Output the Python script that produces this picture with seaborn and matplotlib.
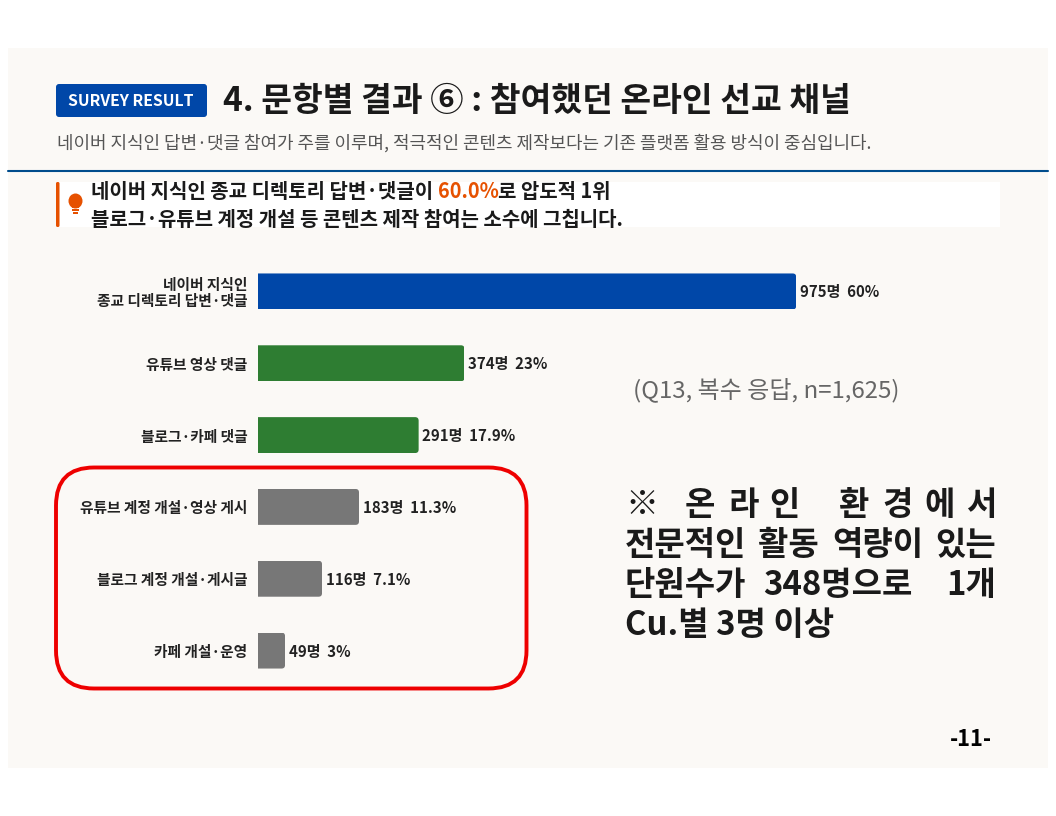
#! python3

# Import Libraries
import numpy as np
import pandas as pd
import matplotlib
matplotlib.use("Agg")
import matplotlib.pyplot as plt
import matplotlib.patches as patches
from matplotlib.transforms import IdentityTransform
import seaborn as sns

# Data
channels = ["네이버 지식인\n종교 디렉토리 답변·댓글", "유튜브 영상 댓글", "블로그·카페 댓글",
            "유튜브 계정 개설·영상 게시", "블로그 계정 개설·게시글", "카페 개설·운영"]
counts = [975, 374, 291, 183, 116, 49]
shares = ["60%", "23%", "17.9%", "11.3%", "7.1%", "3%"]
groups = ["blue", "green", "green", "grey", "grey", "grey"]

BLUE = "#0047A8"
GREEN = "#2E7D32"
GREY = "#777777"
ORANGE = "#E65100"
PAGE = "#FBF9F6"
W, H = 1056, 816

sns.set_theme(style="white")
plt.rcParams['font.family'] = ['Noto Sans CJK KR', 'DejaVu Sans']

df = pd.DataFrame({"channel": channels, "count": counts, "group": groups})

fig = plt.figure(figsize=(W / 100, H / 100), dpi=100, facecolor="white")


# pixel helpers, y measured from the top of the picture
def fx(x):
    return x / W


def fy(y):
    return 1 - y / H


def box(x0, y0, x1, y1, color, round_px=0, z=0):
    style = f"round,pad=0,rounding_size={round_px}" if round_px else "square,pad=0"
    p = patches.FancyBboxPatch((x0, H - y1), x1 - x0, y1 - y0, boxstyle=style, fc=color, ec="none",
                               transform=IdentityTransform(), zorder=z)
    fig.add_artist(p)
    return p


def put(x, y, s, size, color="#1A1A1A", weight="bold", ha="left", **kw):
    return fig.text(fx(x), fy(y), s, fontsize=size * 0.72, color=color, fontweight=weight, ha=ha,
                    va="center", **kw)


# Page
box(8, 48, 1048, 768, PAGE, z=-5)

# Header
box(56, 84, 207, 117, BLUE, round_px=3)
put(130.5, 101, "SURVEY RESULT", 15.8, color="white", ha="center")
put(223, 101.5, "4. 문항별 결과 ⑥ : 참여했던 온라인 선교 채널", 33.4)
put(57, 143.5, "네이버 지식인 답변·댓글 참여가 주를 이루며, 적극적인 콘텐츠 제작보다는 기존 플랫폼 활용 방식이 중심입니다.",
    18, color="#555555", weight="normal")
fig.add_artist(plt.Line2D([fx(8), fx(1048)], [fy(170.5)] * 2, color="#004C8C", lw=1.5))

# Callout
box(56, 182, 1000, 227, "white", z=-1)
box(56, 182, 59.5, 227, ORANGE, round_px=1.5)
fig.add_artist(patches.Ellipse((75.5, H - 201), 14, 15, fc=ORANGE, ec="none", transform=IdentityTransform()))
box(72, 203, 79, 208, ORANGE)
box(72, 209, 79, 211, ORANGE)
box(73, 212, 78, 214, ORANGE)

first = put(91, 191.5, "네이버 지식인 종교 디렉토리 답변·댓글이 ", 20)
fig.canvas.draw()
x1 = first.get_window_extent().x1
pct = put(x1, 191.5, "60.0%", 20, color=ORANGE)
x2 = pct.get_window_extent().x1
put(x2, 191.5, "로 압도적 1위", 20)
put(91, 219.5, "블로그·유튜브 계정 개설 등 콘텐츠 제작 참여는 소수에 그칩니다.", 20)

# Draw Plot
ax = fig.add_axes([fx(258), fy(686.5), 552 / W, 431 / H])
ax.patch.set_alpha(0)
palette = {"blue": BLUE, "green": GREEN, "grey": GREY}
sns.barplot(data=df, y="channel", x="count", hue="group", palette=palette, dodge=False, legend=False,
            width=0.5, saturation=1, linewidth=0, ax=ax)
ax.set_xlim(0, 1000)
ax.set_ylim(5.5, -0.5)
ax.set_xlabel("")
ax.set_ylabel("")
ax.xaxis.set_visible(False)
sns.despine(ax=ax, left=True, bottom=True)
ax.tick_params(axis="y", length=0, pad=7.5)
for lab in ax.get_yticklabels():
    lab.set_fontsize(10.6)
    lab.set_fontweight("bold")
    lab.set_color("#222222")
    lab.set_linespacing(1.0)

# Round right side of bars, value labels
fig.canvas.draw()
for bar in ax.patches:
    if bar.get_width() == 0:
        continue
    (px0, py0), (px1, py1) = ax.transData.transform(
        [(bar.get_x(), bar.get_y()), (bar.get_x() + bar.get_width(), bar.get_y() + bar.get_height())])
    clip = patches.FancyBboxPatch((px0 - 6, min(py0, py1)), px1 - px0 + 6, abs(py1 - py0),
                                  boxstyle="round,pad=0,rounding_size=3.5", transform=IdentityTransform())
    bar.set_clip_path(clip)
for i, (c, s) in enumerate(zip(counts, shares)):
    ax.annotate(f"{c}명  {s}", (c, i), xytext=(3.5, -1), textcoords="offset pixels", va="center",
                fontsize=10.8, fontweight="bold", color="#222222", annotation_clip=False)

# Note
put(633, 390, "(Q13, 복수 응답, n=1,625)", 24, color="#666666", weight="normal")

# Red rounded frame
fig.add_artist(patches.FancyBboxPatch((56, H - 688.5), 470.5, 221, boxstyle="round,pad=0,rounding_size=38",
                                      fc="none", ec="#EE0000", lw=2.8, transform=IdentityTransform()))

# Side remark, justified lines placed word by word
line_1 = ["※", "온", "라", "인", "환", "경", "에", "서"]
line_1_x = [625, 685, 728, 769, 839, 882, 924, 966]
for x, part in zip(line_1_x, line_1):
    put(x, 505.5, part, 33)
for x, part in zip([625, 758, 832, 935], ["전문적인", "활동", "역량이", "있는"]):
    put(x, 545.5, part, 33)
for x, part in zip([625, 763], ["단원수가", "348명으로"]):
    put(x, 585.5, part, 33)
put(996, 585.5, "1개", 33, ha="right")
put(625, 625.5, "Cu.별 3명 이상", 33)

# Page number
put(970.5, 739.5, "-11-", 22, color="black", ha="center")

plt.savefig("out.png", dpi=100)
